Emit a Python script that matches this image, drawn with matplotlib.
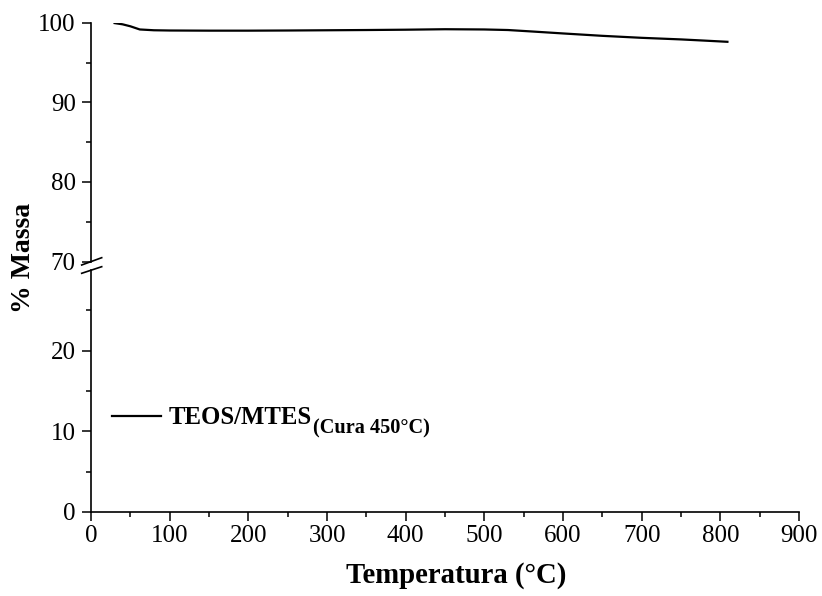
import matplotlib
matplotlib.use("Agg")
import matplotlib.pyplot as plt
from matplotlib.lines import Line2D
from matplotlib.ticker import MultipleLocator

# ---- data ----
temperature = [30, 40, 50, 62, 80, 100, 150, 200, 250, 300, 350, 400, 450,
               500, 530, 560, 600, 650, 700, 750, 780, 809]
mass = [99.95, 99.8, 99.55, 99.15, 99.05, 99.02, 99.0, 99.0, 99.02, 99.05,
        99.08, 99.12, 99.18, 99.15, 99.08, 98.9, 98.65, 98.35, 98.1, 97.9,
        97.75, 97.6]
series_label = "TEOS/MTES"
series_sub = "(Cura 450°C)"
x_ticks = [0, 100, 200, 300, 400, 500, 600, 700, 800, 900]
y_ticks_upper = [70, 80, 90, 100]
y_ticks_lower = [0, 10, 20]

plt.rcParams['font.family'] = ['Liberation Serif', 'DejaVu Serif']

W, H = 822, 596
fig = plt.figure(figsize=(W / 100, H / 100), dpi=100)

left_px, right_px = 91, 799
up_top, up_bot = 22.7, 261.5
lo_top, lo_bot = 270, 512

def rect(top, bot):
    return [left_px / W, 1 - bot / H, (right_px - left_px) / W, (bot - top) / H]

ax_up = fig.add_axes(rect(up_top, up_bot))
ax_lo = fig.add_axes(rect(lo_top, lo_bot))

line, = ax_up.plot(temperature, mass, color='black', lw=1.6)

for ax in (ax_up, ax_lo):
    ax.set_xlim(0, 900)
    for s in ('top', 'right'):
        ax.spines[s].set_visible(False)
    for s in ('left', 'bottom'):
        ax.spines[s].set_linewidth(1.2)
    ax.tick_params(which='major', direction='out', length=6.5, width=1.1,
                   labelsize=18, pad=4.5)
    ax.tick_params(which='minor', direction='out', length=3.3, width=1.1)

ax_up.set_ylim(70, 100)
ax_up.set_yticks(y_ticks_upper)
ax_up.yaxis.set_minor_locator(MultipleLocator(5))
ax_up.spines['bottom'].set_visible(False)
ax_up.set_xticks([])
ax_up.tick_params(axis='x', which='both', bottom=False, labelbottom=False)

ax_lo.set_ylim(0, 30)
ax_lo.set_yticks(y_ticks_lower)
ax_lo.set_yticks([5, 15, 25], minor=True)
ax_lo.set_xticks(x_ticks)
ax_lo.xaxis.set_minor_locator(MultipleLocator(50))
ax_lo.tick_params(axis='x', which='major', pad=3)

# break marks
for (y0, y1) in [(265, 257.7), (273.3, 266.7)]:
    fig.add_artist(Line2D([81.7 / W, 101.7 / W], [1 - y0 / H, 1 - y1 / H],
                          color='black', lw=1.2))

# axis labels
fig.text(456 / W, 1 - 583 / H, 'Temperatura (°C)', ha='center', va='baseline',
         fontsize=20.7, fontweight='bold')
fig.text(23 / W, 1 - 258 / H, '% Massa', ha='center', va='center',
         rotation=90, fontsize=20, fontweight='bold')

# legend
leg = ax_lo.legend([line], [series_label], loc='center left',
                   bbox_to_anchor=((112 - left_px) / (right_px - left_px),
                                   (lo_bot - 418) / (lo_bot - lo_top)),
                   frameon=False, borderaxespad=0, borderpad=0,
                   handlelength=2.0, handletextpad=0.3,
                   prop={'size': 17.8, 'weight': 'bold'})
txt = leg.get_texts()[0]
fig.canvas.draw()
ann = ax_lo.annotate(series_sub, xy=(1, 0), xycoords=txt, xytext=(0.5, -3),
                     textcoords='offset points', ha='left', va='baseline',
                     fontsize=14.6, fontweight='bold', zorder=10)

fig.savefig('out.png', dpi=100)
